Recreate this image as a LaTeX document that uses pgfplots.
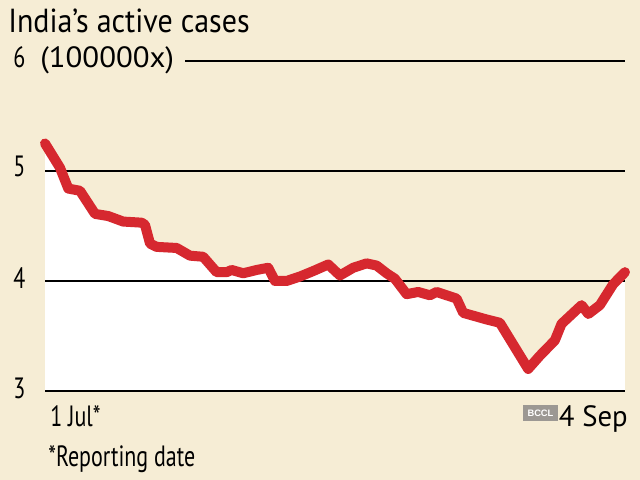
\documentclass[border=0pt]{standalone}
\usepackage{pgfplots}
\pgfplotsset{compat=1.18}
\usepackage{pgfplotstable}
\usepackage{fontspec}
\setmainfont{PT Sans}[FakeStretch=0.75]
\newfontfamily\titlefont{PT Sans}[FakeStretch=0.9]
\newfontfamily\widefont{PT Sans}[FakeStretch=1.05]
\newfontfamily\sepfont{PT Sans}[FakeStretch=0.98]
\newfontfamily\markfont{Liberation Sans}
\definecolor{bg}{HTML}{F6EDD5}
\definecolor{lred}{HTML}{D6282F}
\definecolor{bccl}{HTML}{9C9893}
\pgfplotstableread{
x y
0 5.25
1.7 5.03
2.65 4.84
3.98 4.82
5.69 4.61
7.2 4.59
8.9 4.54
11.0 4.53
11.38 4.51
11.95 4.34
12.7 4.31
14.98 4.30
16.5 4.23
18.0 4.22
19.53 4.08
20.67 4.08
21.24 4.10
22.56 4.07
24.08 4.10
25.4 4.12
26.17 4.00
27.5 4.00
29.0 4.04
30.52 4.09
32.23 4.15
33.56 4.05
35.07 4.12
36.6 4.16
37.74 4.14
38.87 4.07
39.82 4.02
41.15 3.88
42.47 3.90
43.8 3.87
44.56 3.90
46.84 3.84
47.59 3.71
50.25 3.65
51.76 3.62
54.98 3.20
56.31 3.32
58.02 3.46
58.78 3.61
61.06 3.78
61.83 3.70
63.14 3.78
64.65 3.97
66 4.08
}\cases
\begin{document}
\begin{tikzpicture}
\begin{axis}[
  scale only axis, width=435pt, height=247.5pt,
  xmin=0, xmax=66, ymin=3, ymax=6,
  axis lines=none, clip=false,
]
\fill[bg] (rel axis cs:-0.0776,-0.2697) rectangle (rel axis cs:1.0259,1.1848);
\addplot[fill=white, draw=none] table[x=x,y=y] {\cases} -- (axis cs:66,3) -- (axis cs:0,3) -- cycle;
\draw[black, line width=1.1pt] (rel axis cs:0,0) -- (rel axis cs:1,0);
\draw[black, line width=1.1pt] (axis cs:0,4) -- (axis cs:66,4);
\draw[black, line width=1.1pt] (axis cs:0,5) -- (axis cs:66,5);
\draw[black, line width=1.1pt] (rel axis cs:0.2414,1) -- (rel axis cs:1,1);
\addplot[lred, line width=7.5pt, line join=round, line cap=round] table[x=x,y=y] {\cases};
\node[anchor=base west, inner sep=0pt, font=\titlefont\fontsize{25}{28}\selectfont, text=black] at (rel axis cs:-0.0638,1.0848) {India’s active cases};
\begin{scope}[every node/.style={anchor=base west, inner sep=0pt, font=\fontsize{22}{24}\selectfont, text=black}]
\node at (rel axis cs:-0.0552,0.9788) {6};
\node at (rel axis cs:-0.0552,0.6485) {5};
\node at (rel axis cs:-0.0552,0.3091) {4};
\node at (rel axis cs:-0.0552,-0.0242) {3};
\node[font=\widefont\fontsize{22}{24}\selectfont] at (rel axis cs:-0.0086,0.9788) {(100000x)};
\node at (rel axis cs:0.0086,-0.1091) {1 Jul*};
\node at (rel axis cs:0.0052,-0.2303) {*Reporting date};
\node[anchor=base east, font=\sepfont\fontsize{22}{24}\selectfont] at (rel axis cs:1.0052,-0.1091) {4 Sep};
\end{scope}
\fill[bccl] (rel axis cs:0.8241,-0.0424) rectangle (rel axis cs:0.8845,-0.0909);
\node[text=white, inner sep=0pt, font=\markfont\fontsize{7}{8}\selectfont\bfseries] at (rel axis cs:0.8543,-0.0667) {BCCL};
\end{axis}
\end{tikzpicture}
\end{document}
